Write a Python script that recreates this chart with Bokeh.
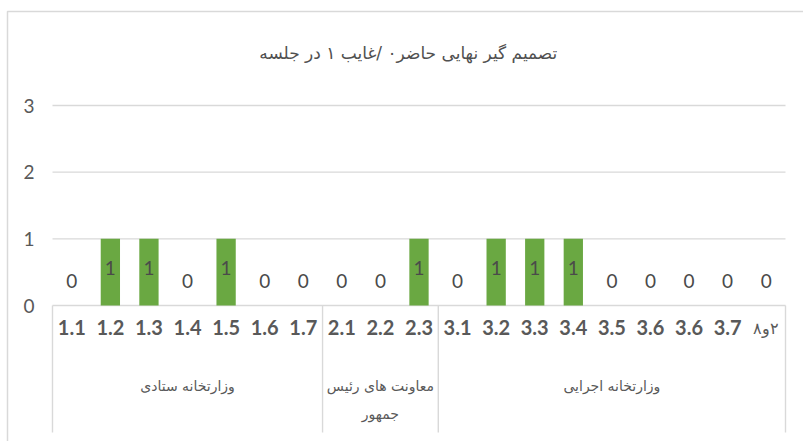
from bokeh.plotting import figure
from bokeh.models import ColumnDataSource, Range1d
from bokeh.core.properties import value
from bokeh.embed import file_html
from bokeh.resources import INLINE

# ---------------- data ----------------
title_text = "تصمیم گیر نهایی حاضر۰ /غایب ۱  در جلسه"
categories = ["1.1", "1.2", "1.3", "1.4", "1.5", "1.6", "1.7",
              "2.1", "2.2", "2.3",
              "3.1", "3.2", "3.3", "3.4", "3.5", "3.6", "3.6", "3.7", "۲و۸"]
values = [0, 1, 1, 0, 1, 0, 0, 0, 0, 1, 0, 1, 1, 1, 0, 0, 0, 0, 0]
group_lines = [["وزارتخانه ستادی"], ["معاونت های رئیس", "جمهور"], ["وزارتخانه اجرایی"]]
group_sizes = [7, 3, 9]
y_ticks = [0, 1, 2, 3]

# ---------------- layout (pixels) ----------------
W, H = 803, 441
PL, PR = 52, 785          # plot area left / right
PY0, PYT = 305, 105       # pixel of y=0 and y=top tick
TXT = "#595959"
GRID = "#d9d9d9"
GREEN = "#6aa842"

n = len(categories)
xu = (PR - PL) / n
yu = (PY0 - PYT) / y_ticks[-1]
x_start = -0.5 - PL / xu
x_end = n - 0.5 + (W - PR) / xu
y_start = -(H - PY0) / yu
y_end = y_ticks[-1] + PYT / yu

def px_x(px):
    return x_start + px / xu

def px_y(py):
    return y_end - py / yu

def is_rtl(s):
    return any("\u0600" <= ch <= "\u06ff" for ch in s)

# RTL labels are embedded right-to-left so they read as in the original
cat_disp = [("\u202b" + c + "\u202c") if is_rtl(c) else c for c in categories]
cat_style = ["normal" if is_rtl(c) else "bold" for c in categories]
cat_size = ["16px" if is_rtl(c) else "20px" for c in categories]

xs = list(range(n))
src = ColumnDataSource(dict(
    x=xs, v=values, lab=[str(v) for v in values], cat=cat_disp,
    cstyle=cat_style, csize=cat_size,
    yoff=[29 if v > 0 else -25 for v in values],
))

p = figure(width=W, height=H, output_backend="svg", toolbar_location=None,
           x_range=Range1d(x_start, x_end), y_range=Range1d(y_start, y_end),
           x_axis_location=None, y_axis_location=None, min_border=0)
p.outline_line_color = None
p.grid.visible = False
p.background_fill_color = "white"
p.border_fill_color = "white"

# chart border (left + top)
bx, by = px_x(7), px_y(11)
p.line(x=[bx, bx, x_end + 1], y=[y_start - 1, by, by], line_color=GRID, line_width=1.5)

# gridlines (incl. axis line at 0)
p.segment(x0=[-0.5] * len(y_ticks), x1=[n - 0.5] * len(y_ticks), y0=y_ticks, y1=y_ticks,
          line_color=GRID, line_width=1.4)

# y tick labels
p.text(x=[-0.5] * len(y_ticks), y=y_ticks, text=[str(t) for t in y_ticks], x_offset=-18,
       text_align="right", text_baseline="middle", text_color=TXT,
       text_font=value("Lato"), text_font_size="19px")

# group separators
bounds = [-0.5]
for s in group_sizes:
    bounds.append(bounds[-1] + s)
p.segment(x0=bounds, x1=bounds, y0=[0] * len(bounds), y1=[px_y(432)] * len(bounds),
          line_color=GRID, line_width=1.4)

# bars
p.vbar(x="x", top="v", bottom=0, width=0.5, source=src, fill_color=GREEN, line_color=None)

# data labels
p.text(x="x", y="v", text="lab", y_offset="yoff", source=src, text_align="center",
       text_baseline="middle", text_color="#4a4a4a", text_font=value("Lato"),
       text_font_size="19px")

# category labels
p.text(x="x", y=0, text="cat", y_offset=22, source=src, text_align="center",
       text_baseline="middle", text_color=TXT, text_font=value("Lato"),
       text_font_style="cstyle", text_font_size="csize")

# group labels
gx, gy, gt, go = [], [], [], []
for k, lines in enumerate(group_lines):
    cx = (bounds[k] + bounds[k + 1]) / 2
    for j, line in enumerate(lines):
        gx.append(cx); gy.append(0); gt.append(line); go.append(80 + 28 * j)
p.text(x=gx, y=gy, text=gt, y_offset=go, text_align="center", text_baseline="middle",
       text_color=TXT, text_font=value("DejaVu Sans"), text_font_size="14px")

# title
p.text(x=[(n - 1) / 2], y=[y_ticks[-1]], text=[title_text], x_offset=-8, y_offset=-53,
       text_align="center", text_baseline="middle", text_color="#505050",
       text_font=value("DejaVu Sans"), text_font_size="17px")

open("out.html", "w").write(file_html(p, INLINE))
